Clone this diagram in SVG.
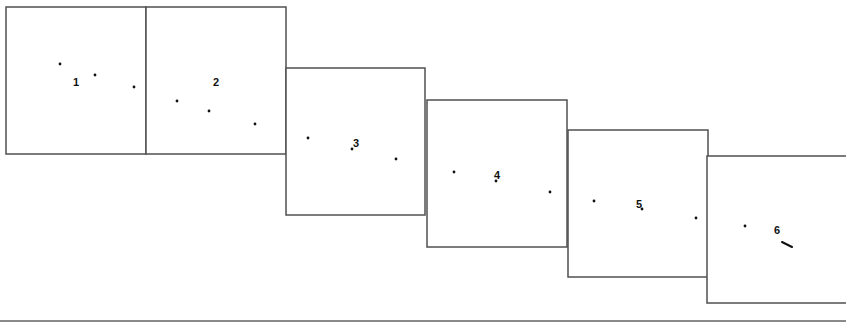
<svg xmlns="http://www.w3.org/2000/svg" width="846" height="322" viewBox="0 0 846 322">
<style>
.box{fill:#fff;stroke:#505050;stroke-width:1.5}
.dot{fill:#111}
.lbl{font-family:"Liberation Sans",Arial,sans-serif;font-size:11px;font-weight:bold;fill:#111;text-anchor:middle}
</style>
<rect width="846" height="322" fill="#fff"/>
<g id="frame1">
<rect class="box" x="6" y="7" width="140" height="147"/>
<circle class="dot" cx="60" cy="64" r="1.4"/>
<circle class="dot" cx="95" cy="75" r="1.4"/>
<circle class="dot" cx="134" cy="87" r="1.4"/>
<text class="lbl" x="76" y="86">1</text>
</g>
<g id="frame2">
<rect class="box" x="146" y="7" width="140" height="147"/>
<circle class="dot" cx="177" cy="101" r="1.4"/>
<circle class="dot" cx="209" cy="111" r="1.4"/>
<circle class="dot" cx="255" cy="124" r="1.4"/>
<text class="lbl" x="216" y="86">2</text>
</g>
<g id="frame3">
<rect class="box" x="286" y="68" width="139" height="147"/>
<circle class="dot" cx="308" cy="138" r="1.4"/>
<circle class="dot" cx="352" cy="149" r="1.4"/>
<circle class="dot" cx="396" cy="159" r="1.4"/>
<text class="lbl" x="356" y="147">3</text>
</g>
<g id="frame4">
<rect class="box" x="427" y="100" width="140" height="147"/>
<circle class="dot" cx="454" cy="172" r="1.4"/>
<circle class="dot" cx="496" cy="181" r="1.4"/>
<circle class="dot" cx="550" cy="192" r="1.4"/>
<text class="lbl" x="497" y="179">4</text>
</g>
<g id="frame5">
<rect class="box" x="568" y="130" width="140" height="147"/>
<circle class="dot" cx="594" cy="201" r="1.4"/>
<circle class="dot" cx="642" cy="209" r="1.4"/>
<circle class="dot" cx="696" cy="218" r="1.4"/>
<text class="lbl" x="639" y="208">5</text>
</g>
<g id="frame6">
<rect class="box" x="707" y="156" width="145" height="147"/>
<circle class="dot" cx="745" cy="226" r="1.4"/>
<line x1="782" y1="242" x2="792" y2="247" stroke="#111" stroke-width="2" stroke-linecap="round"/>
<text class="lbl" x="777" y="234">6</text>
</g>
<g id="connectors"></g>
<line x1="0" y1="321" x2="846" y2="321" stroke="#8a8a8a" stroke-width="2"/>
</svg>
